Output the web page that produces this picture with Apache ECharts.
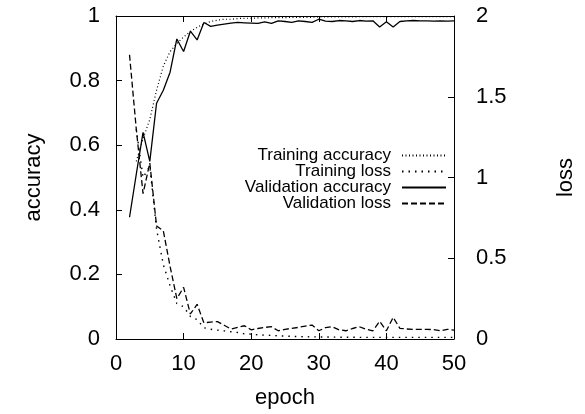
<!DOCTYPE html>
<html>
<head>
<meta charset="utf-8">
<script src="https://cdn.jsdelivr.net/npm/echarts@6/dist/echarts.min.js"></script>
<style>html,body{margin:0;padding:0;background:#fff;}#c{width:585px;height:414px;}</style>
</head>
<body>
<div id="c"></div>
<script>
const valEpochs = [2,3,4,5,6,7,8,9,10,11,12,13,14,15,16,17,18,19,20,21,22,23,24,25,26,27,28,29,30,31,32,33,34,35,36,37,38,39,40,41,42,43,44,45,46,47,48,49,50];
const trainEpochs = [3,4,5,6,7,8,9,10,11,12,13,14,15,16,17,18,19,20,21,22,23,24,25,26,27,28,29,30,31,32,33,34,35,36,37,38,39,40,41,42,43,44,45,46,47,48,49,50];
const trainAcc = [0.55,0.62,0.68,0.77,0.845,0.89,0.915,0.935,0.952,0.965,0.975,0.983,0.987,0.99,0.99,0.992,0.993,0.993,0.994,0.994,0.995,0.995,0.995,0.996,0.996,0.996,0.996,0.997,0.997,0.997,0.997,0.997,0.997,0.998,0.998,0.998,0.998,0.998,0.998,0.998,0.998,0.998,0.998,0.998,0.998,0.998,0.998,0.998];
const trainLoss = [1.3,1.0,1.07,0.68,0.46,0.33,0.22,0.2,0.14,0.12,0.07,0.06,0.055,0.05,0.045,0.04,0.032,0.03,0.026,0.024,0.022,0.02,0.018,0.016,0.015,0.014,0.013,0.013,0.012,0.012,0.011,0.011,0.011,0.01,0.01,0.01,0.01,0.01,0.01,0.01,0.01,0.01,0.01,0.01,0.01,0.01,0.01,0.01];
const valAcc = [0.377,0.51,0.64,0.55,0.73,0.77,0.826,0.929,0.89,0.953,0.926,0.98,0.968,0.972,0.975,0.978,0.98,0.979,0.978,0.977,0.982,0.977,0.985,0.983,0.98,0.985,0.983,0.98,0.99,0.984,0.983,0.986,0.985,0.983,0.986,0.984,0.985,0.966,0.982,0.966,0.983,0.985,0.986,0.985,0.985,0.984,0.985,0.984,0.985];
const valLoss = [1.76,1.3,0.9,1.09,0.70,0.67,0.45,0.25,0.32,0.155,0.215,0.1,0.105,0.108,0.085,0.062,0.072,0.082,0.057,0.065,0.072,0.076,0.051,0.06,0.066,0.072,0.08,0.086,0.051,0.07,0.076,0.057,0.051,0.065,0.076,0.06,0.051,0.109,0.051,0.134,0.066,0.062,0.06,0.06,0.06,0.058,0.051,0.06,0.055];
const accTicks = [0,0.2,0.4,0.6,0.8,1];
const lossTicks = [0,0.5,1,1.5,2];
const xTicks = [0,10,20,30,40,50];
const seriesNames = ['Training accuracy','Training loss','Validation accuracy','Validation loss'];

const FONT = 'Liberation Sans';
const txt = {color:'#000', fontFamily: FONT, fontSize: 22};
const pair = (xs, ys) => xs.map((e,i)=>[e, ys[i]]);
const chart = echarts.init(document.getElementById('c'), null, {renderer:'canvas'});
const lineCommon = {type:'line', symbol:'none', showSymbol:false, animation:false, smooth:false};
const legendTops = [147, 163, 179, 195];
const axisLineStyle = {show:true, onZero:false, lineStyle:{color:'#000', width:1}};
const tickStyle = {show:true, inside:true, length:6, lineStyle:{color:'#000'}};
chart.setOption({
  backgroundColor:'#fff',
  animation:false,
  grid:{left:116, right:130, top:16, bottom:74, show:false},
  legend: seriesNames.map((n,i)=>({
    data:[n], right:138, top:legendTops[i], align:'right', orient:'vertical',
    itemWidth:44, itemHeight:16, padding:0, selectedMode:false,
    itemStyle:{opacity:0},
    textStyle:{color:'#000', fontFamily:FONT, fontSize:17, padding:[0,6,0,0]}
  })),
  xAxis:[{
    type:'value', min:0, max:50, interval:10,
    name:'epoch', nameLocation:'middle', nameGap:48, nameTextStyle:txt,
    axisLine:axisLineStyle, axisTick:tickStyle,
    axisLabel:Object.assign({margin:14}, txt),
    splitLine:{show:false}
  },{
    type:'value', min:0, max:50, interval:10, position:'top',
    axisLine:axisLineStyle, axisTick:tickStyle,
    axisLabel:{show:false}, splitLine:{show:false}
  }],
  yAxis:[{
    type:'value', min:0, max:1, interval:0.2, position:'left',
    name:'accuracy', nameLocation:'middle', nameGap:71, nameRotate:90, nameTextStyle:txt,
    axisLine:axisLineStyle, axisTick:tickStyle,
    axisLabel:Object.assign({margin:16}, txt),
    splitLine:{show:false}
  },{
    type:'value', min:0, max:2, interval:0.5, position:'right',
    name:'loss', nameLocation:'middle', nameGap:101, nameRotate:90, nameTextStyle:txt,
    axisLine:axisLineStyle, axisTick:tickStyle,
    axisLabel:Object.assign({margin:22}, txt),
    splitLine:{show:false}
  }],
  series:[
    Object.assign({name:seriesNames[0], yAxisIndex:0, data:pair(trainEpochs, trainAcc), color:'#000',
      lineStyle:{color:'#000', width:1.2, type:[1,2.5]}}, lineCommon),
    Object.assign({name:seriesNames[1], yAxisIndex:1, data:pair(trainEpochs, trainLoss), color:'#000',
      lineStyle:{color:'#000', width:1.4, type:[1.5,5]}}, lineCommon),
    Object.assign({name:seriesNames[2], yAxisIndex:0, data:pair(valEpochs, valAcc), color:'#000',
      lineStyle:{color:'#000', width:1.3}}, lineCommon),
    Object.assign({name:seriesNames[3], yAxisIndex:1, data:pair(valEpochs, valLoss), color:'#000',
      lineStyle:{color:'#000', width:1.3, type:[6,3]}}, lineCommon)
  ]
});
</script>
</body>
</html>
